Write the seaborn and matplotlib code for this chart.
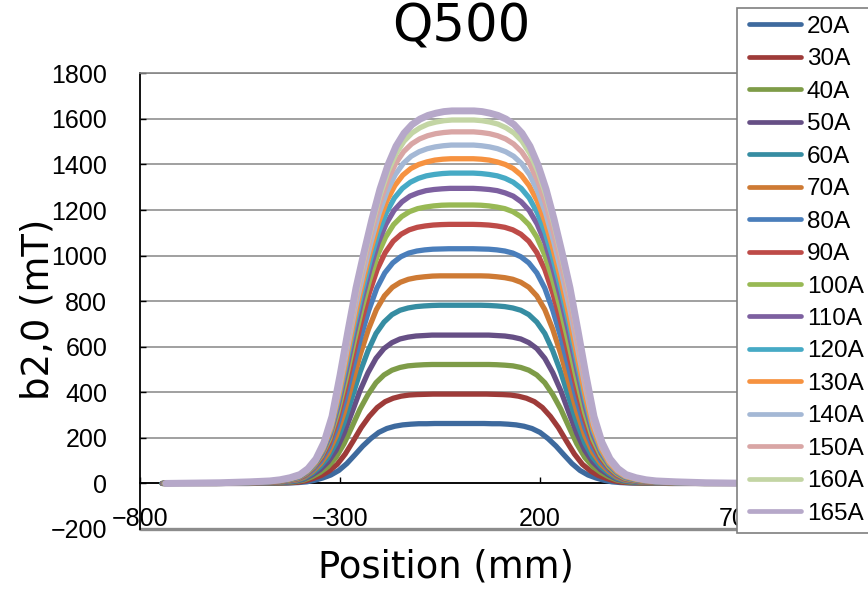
import matplotlib
matplotlib.use("Agg")
import matplotlib.pyplot as plt
from matplotlib.lines import Line2D
from matplotlib.legend_handler import HandlerLine2D
import numpy as np
import pandas as pd
import seaborn as sns

# ---------------- data ----------------
currents = ["20A", "30A", "40A", "50A", "60A", "70A", "80A", "90A", "100A",
            "110A", "120A", "130A", "140A", "150A", "160A", "165A"]

colors = ["#3E6A9E", "#9E3B39", "#7E9C48", "#664F85", "#368DA2", "#CE7A34",
          "#4A7EBB", "#BE4B48", "#98B954", "#7D60A0", "#46AAC5", "#F69240",
          "#A4B8D5", "#D9A6A5", "#C3D5A4", "#B6A8C9"]

# reference positions (mm) of the profile flank, from the far end to the centre
half_positions = [-735, -600, -525, -475, -450, -425, -400, -380, -360, -340,
                  -320, -300, -280, -260, -240, -220, -200, -180, -160, -140,
                  -120, -100, -80, -60, -40, -20, 0]

# how far (mm) each curve's left / right flank lies outside those positions
left_widen = [3, 7, 10, 10, 10, 9, 8, 7, 6, 5, 4, 3, 2, 1, 0, 0]
right_widen = [0, 6, 12, 12, 12, 12, 12, 12, 12, 13, 13, 13, 14, 14, 15, 15]

b20 = [0, 0, 0, 1, 1, 2, 4, 7, 14, 24, 37, 57, 87, 125, 164, 197, 224, 241, 251, 257, 260, 262, 262, 263, 263, 263, 263]
b30 = [0, 0, 0, 1, 2, 3, 5, 11, 22, 35, 55, 84, 129, 186, 245, 294, 333, 359, 374, 383, 388, 390, 391, 392, 392, 392, 392]
b40 = [0, 0, 1, 2, 3, 4, 8, 15, 29, 48, 74, 114, 174, 249, 326, 390, 442, 476, 497, 509, 516, 519, 521, 522, 522, 522, 522]
b50 = [0, 0, 1, 2, 4, 6, 10, 19, 37, 60, 94, 145, 220, 312, 407, 486, 549, 592, 618, 634, 642, 647, 649, 651, 651, 651, 651]
b60 = [0, 0, 1, 3, 4, 7, 12, 23, 44, 73, 114, 177, 267, 377, 488, 582, 658, 708, 741, 760, 770, 776, 779, 781, 782, 782, 782]
b70 = [0, 0, 1, 3, 5, 9, 15, 28, 52, 86, 135, 210, 315, 442, 568, 676, 763, 823, 861, 883, 896, 903, 907, 910, 911, 911, 911]
b80 = [0, 1, 2, 4, 7, 10, 18, 33, 60, 99, 157, 245, 365, 505, 642, 760, 857, 924, 968, 995, 1011, 1020, 1025, 1028, 1029, 1030, 1030]
b90 = [0, 1, 3, 5, 8, 12, 20, 37, 68, 111, 177, 279, 412, 563, 708, 835, 939, 1013, 1063, 1094, 1113, 1124, 1130, 1134, 1136, 1137, 1137]
b100 = [0, 1, 3, 6, 9, 14, 23, 42, 74, 122, 196, 309, 452, 611, 761, 892, 1002, 1081, 1136, 1171, 1193, 1206, 1213, 1218, 1221, 1222, 1222]
b110 = [0, 2, 4, 7, 10, 16, 26, 46, 80, 132, 212, 337, 490, 654, 805, 940, 1054, 1138, 1198, 1236, 1261, 1275, 1285, 1290, 1293, 1295, 1295]
b120 = [0, 2, 4, 8, 12, 18, 29, 50, 85, 142, 229, 364, 526, 695, 846, 983, 1100, 1189, 1253, 1295, 1322, 1339, 1350, 1356, 1360, 1362, 1362]
b130 = [0, 2, 5, 9, 12, 19, 31, 53, 90, 150, 242, 387, 556, 730, 885, 1026, 1147, 1240, 1307, 1353, 1382, 1400, 1411, 1419, 1423, 1425, 1425]
b140 = [0, 3, 5, 10, 14, 21, 33, 57, 96, 159, 258, 414, 591, 768, 922, 1063, 1187, 1283, 1355, 1404, 1436, 1456, 1469, 1477, 1482, 1485, 1485]
b150 = [0, 3, 6, 10, 15, 22, 35, 60, 100, 167, 272, 436, 620, 802, 957, 1102, 1228, 1329, 1404, 1456, 1490, 1512, 1526, 1535, 1540, 1543, 1543]
b160 = [0, 3, 6, 11, 16, 23, 37, 63, 104, 174, 284, 457, 648, 833, 989, 1136, 1265, 1369, 1447, 1502, 1538, 1561, 1577, 1586, 1592, 1595, 1595]
b165 = [0, 3, 7, 11, 16, 25, 39, 65, 108, 180, 294, 474, 670, 858, 1014, 1161, 1292, 1398, 1480, 1537, 1575, 1599, 1615, 1625, 1632, 1635, 1635]

half_values = [b20, b30, b40, b50, b60, b70, b80, b90, b100,
               b110, b120, b130, b140, b150, b160, b165]

x_ticks = [-800, -300, 200, 700]
y_ticks = list(range(-200, 1801, 200))

# ---------------- long-form table ----------------
rows = []
for cur, hv, lw_, rw_ in zip(currents, half_values, left_widen, right_widen):
    pos = [p - lw_ for p in half_positions[:-1]] + [0] + \
          [-p + rw_ for p in half_positions[-2::-1]]
    full = hv + hv[-2::-1]
    for p, v in zip(pos, full):
        rows.append({"position": p, "b": v, "current": cur})
df = pd.DataFrame(rows)

# ---------------- style ----------------
sns.set_style("white")
plt.rcParams["font.family"] = ["DejaVu Sans"]
plt.rcParams["text.color"] = "black"
plt.rcParams["axes.labelcolor"] = "black"
plt.rcParams["xtick.color"] = "black"
plt.rcParams["ytick.color"] = "black"

W, H = 868, 589
fig = plt.figure(figsize=(W / 100, H / 100), dpi=100)
ax = fig.add_axes([140 / W, 1 - 529 / H, 600 / W, (529 - 73.3) / H])

sns.lineplot(data=df, x="position", y="b", hue="current", hue_order=currents,
             palette=colors, estimator=None, sort=False, linewidth=3.8,
             legend=False, ax=ax)

for ln in ax.get_lines():
    ln.set_solid_capstyle("round")
    ln.set_solid_joinstyle("round")
    ln.set_zorder(3)
    if matplotlib.colors.to_hex(ln.get_color()).upper() == colors[-1].upper():
        ln.set_linewidth(5.0)
        ln.set_zorder(3.5)

ax.set_xlim(-800, 700)
ax.set_ylim(-200, 1800)
ax.set_xticks(x_ticks)
ax.set_yticks(y_ticks)
ax.set_xlabel("")
ax.set_ylabel("")

ax.yaxis.grid(True, color="#868686", linewidth=1.1)
ax.xaxis.grid(False)
ax.set_axisbelow(True)

ax.spines["bottom"].set_position(("data", 0))
ax.spines["bottom"].set_color("black")
ax.spines["bottom"].set_linewidth(1.3)
ax.spines["left"].set_color("black")
ax.spines["left"].set_linewidth(1.3)
ax.spines["top"].set_color("#868686")
ax.spines["top"].set_linewidth(1.2)
ax.spines["right"].set_visible(False)
ax.axhline(-200, color="#8c8c8c", linewidth=2.4, clip_on=False, zorder=1)

ax.tick_params(axis="x", direction="in", length=4.5, width=1, color="black",
               labelcolor="black", pad=17, labelsize=18, bottom=True)
ax.tick_params(axis="y", direction="in", length=4, width=1, color="black",
               labelcolor="black", pad=23.5, labelsize=18, left=True)
for lab in ax.get_xticklabels() + ax.get_yticklabels():
    lab.set_fontfamily(["Liberation Sans", "DejaVu Sans"])

fig.text(461 / W, 1 - 41.7 / H, "Q500", ha="center", va="baseline",
         fontsize=37, color="black")
fig.text(446 / W, 1 - 577 / H, "Position (mm)", ha="center", va="baseline",
         fontsize=26.6, color="black")
fig.text(38 / W, 1 - 309 / H, "b2,0 (mT)", rotation=90, ha="center",
         va="center", fontsize=26.6, color="black")

handles = [Line2D([0], [0], color=c, lw=3.4, solid_capstyle="round") for c in colors]
leg = fig.legend(handles, currents, loc="upper left",
                 bbox_to_anchor=(736.5 / W, 1 - 8 / H),
                 bbox_transform=fig.transFigure, frameon=True, fancybox=False,
                 edgecolor="#7f7f7f", framealpha=1, borderpad=0.32,
                 borderaxespad=0, labelspacing=0.43, handlelength=2.33,
                 handletextpad=0.24,
                 handler_map={Line2D: HandlerLine2D(xpad=0.2)},
                 prop={"family": ["Liberation Sans", "DejaVu Sans"], "size": 17.5})
leg.get_frame().set_linewidth(1.2)
for t in leg.get_texts():
    t.set_color("black")

fig.savefig("out.png", dpi=100)
